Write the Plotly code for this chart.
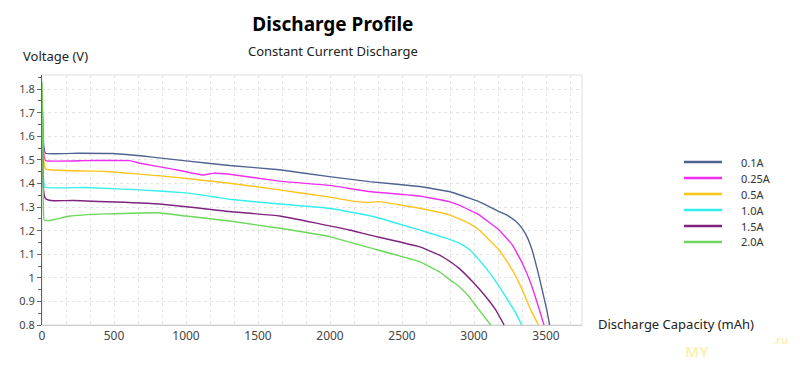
import plotly.graph_objects as go

# ---- data ----
names = ["0.1A", "0.25A", "0.5A", "1.0A", "1.5A", "2.0A"]
colors = ["#4f6391", "#ee30ee", "#ffc41a", "#33eeee", "#7f237f", "#6ad85a"]

cap_01 = [0, 12, 25, 250, 494, 750, 1000, 1303, 1650, 1996, 2273, 2620, 2827, 2966, 3035, 3174, 3240, 3290, 3330, 3359, 3385, 3405, 3440, 3474, 3505, 3525]
v_01 = [1.77, 1.56, 1.528, 1.528, 1.527, 1.513, 1.496, 1.476, 1.458, 1.429, 1.408, 1.387, 1.366, 1.338, 1.323, 1.281, 1.262, 1.240, 1.213, 1.185, 1.150, 1.115, 1.035, 0.948, 0.865, 0.80]

cap_025 = [0, 12, 25, 300, 610, 679, 900, 1118, 1187, 1303, 1650, 1996, 2273, 2620, 2827, 2897, 2966, 3035, 3174, 3267, 3336, 3394, 3440, 3486]
v_025 = [1.78, 1.53, 1.497, 1.497, 1.497, 1.486, 1.462, 1.436, 1.443, 1.439, 1.410, 1.392, 1.366, 1.347, 1.323, 1.308, 1.288, 1.267, 1.203, 1.139, 1.062, 0.977, 0.892, 0.80]

cap_05 = [0, 12, 25, 448, 900, 1303, 1650, 1996, 2183, 2273, 2342, 2620, 2827, 2897, 2966, 3035, 3174, 3267, 3336, 3394, 3447]
v_05 = [1.80, 1.50, 1.461, 1.451, 1.428, 1.401, 1.373, 1.342, 1.323, 1.320, 1.323, 1.295, 1.267, 1.250, 1.231, 1.203, 1.118, 1.033, 0.948, 0.864, 0.80]

cap_10 = [0, 10, 20, 300, 679, 1000, 1187, 1303, 1650, 1996, 2300, 2620, 2827, 2897, 2966, 3035, 3128, 3220, 3290, 3331]
v_10 = [1.72, 1.42, 1.384, 1.383, 1.373, 1.360, 1.344, 1.333, 1.313, 1.295, 1.260, 1.203, 1.164, 1.147, 1.121, 1.076, 1.005, 0.920, 0.850, 0.80]

cap_15 = [0, 10, 20, 32, 78, 217, 818, 1303, 1650, 2134, 2273, 2620, 2758, 2850, 2897, 2989, 3082, 3151, 3209]
v_15 = [1.75, 1.38, 1.34, 1.333, 1.327, 1.328, 1.313, 1.281, 1.262, 1.203, 1.182, 1.132, 1.097, 1.062, 1.040, 0.984, 0.920, 0.864, 0.80]

cap_20 = [0, 8, 15, 50, 194, 448, 795, 1000, 1303, 1650, 1996, 2273, 2620, 2758, 2850, 2897, 2966, 3035, 3116]
v_20 = [1.83, 1.40, 1.245, 1.243, 1.262, 1.271, 1.276, 1.262, 1.241, 1.210, 1.175, 1.128, 1.069, 1.026, 0.984, 0.963, 0.920, 0.864, 0.80]

caps = [cap_01, cap_025, cap_05, cap_10, cap_15, cap_20]
volts = [v_01, v_025, v_05, v_10, v_15, v_20]

x_tick_vals = [0, 500, 1000, 1500, 2000, 2500, 3000, 3500]
y_tick_vals = [0.8, 0.9, 1.0, 1.1, 1.2, 1.3, 1.4, 1.5, 1.6, 1.7, 1.8]
y_tick_text = ["0.8", "0.9", "1", "1.1", "1.2", "1.3", "1.4", "1.5", "1.6", "1.7", "1.8"]

FONT = "Noto Sans"
OFF = 8                          # page body margin of the viewer
L, T, W, H = 42, 75, 540, 250    # plot area in page pixels


def px(xp):
    return (xp - L) / W


def py(yp):
    return (T + H - yp) / H


fig = go.Figure()
for n, c, x, y in zip(names, colors, caps, volts):
    fig.add_trace(go.Scatter(x=x, y=y, mode="lines", name=n, showlegend=False,
                             line=dict(color=c, width=1.4, shape="spline", smoothing=0.3)))

shapes = [dict(type="rect", xref="paper", yref="paper", x0=0, x1=1, y0=0, y1=1,
               line=dict(color="#dddddd", width=1), layer="below")]
annotations = [
    dict(text="<b>Discharge Profile</b><br>"
              "<span style='font-size:13px;color:#222'>Constant Current Discharge</span>",
         xref="paper", yref="paper",
         x=px(333), y=py(8.5), xanchor="center", yanchor="top", align="center",
         showarrow=False, font=dict(size=19, color="#000", family=FONT)),
    dict(text="Voltage (V)", xref="paper", yref="paper",
         x=px(21), y=py(56), xanchor="left", yanchor="middle",
         showarrow=False, font=dict(size=13, color="#222", family=FONT)),
    dict(text="Discharge Capacity (mAh)", xref="paper", yref="paper",
         x=px(596), y=py(324), xanchor="left", yanchor="middle",
         showarrow=False, font=dict(size=13, color="#222", family=FONT)),
    dict(text="<b>MY</b>", xref="paper", yref="paper",
         x=px(697), y=py(351), xanchor="center", yanchor="middle",
         showarrow=False, font=dict(size=15, color="rgba(245,225,80,0.45)", family=FONT)),
    dict(text="<b>.ru</b>", xref="paper", yref="paper",
         x=px(780), y=py(339), xanchor="center", yanchor="middle",
         showarrow=False, font=dict(size=11, color="rgba(245,225,80,0.45)", family=FONT)),
]

# legend (drawn at the reference's legend position)
for i, (n, c) in enumerate(zip(names, colors)):
    yy = 162 + i * 16
    shapes.append(dict(type="line", xref="paper", yref="paper",
                       x0=px(684), x1=px(722), y0=py(yy), y1=py(yy),
                       line=dict(color=c, width=2.5)))
    annotations.append(dict(text=n, xref="paper", yref="paper", x=px(739), y=py(yy),
                            xanchor="left", yanchor="middle", showarrow=False,
                            font=dict(size=11, color="#333", family=FONT)))

fig.update_layout(
    width=800, height=369,
    margin=dict(l=L - OFF, r=800 - (L - OFF) - W, t=T - OFF, b=369 - (T - OFF) - H,
                autoexpand=False),
    paper_bgcolor="white", plot_bgcolor="white",
    font=dict(family=FONT, color="#333", size=12),
    showlegend=False,
    xaxis=dict(range=[0, 3750], tickvals=x_tick_vals, showgrid=True,
               gridcolor="#e4e4e4", griddash="dot", zeroline=False,
               showline=True, linecolor="#cccccc", linewidth=1,
               ticks="", tickfont=dict(size=12, color="#444"), automargin=False,
               minor=dict(dtick=500 / 3, tick0=0, showgrid=True,
                          gridcolor="#e4e4e4", griddash="dot")),
    yaxis=dict(range=[0.8, 1.86], tickvals=y_tick_vals, ticktext=y_tick_text,
               showgrid=True, gridcolor="#e4e4e4", griddash="dot",
               zeroline=False, showline=True, linecolor="#666", linewidth=1,
               ticks="outside", ticklen=4, tickcolor="#666", automargin=False,
               tickfont=dict(size=11, color="#444"),
               minor=dict(dtick=0.05, tick0=0.8, ticks="outside",
                          ticklen=3, tickcolor="#666", showgrid=False)),
    shapes=shapes,
    annotations=annotations,
)

fig.write_html("out.html")
